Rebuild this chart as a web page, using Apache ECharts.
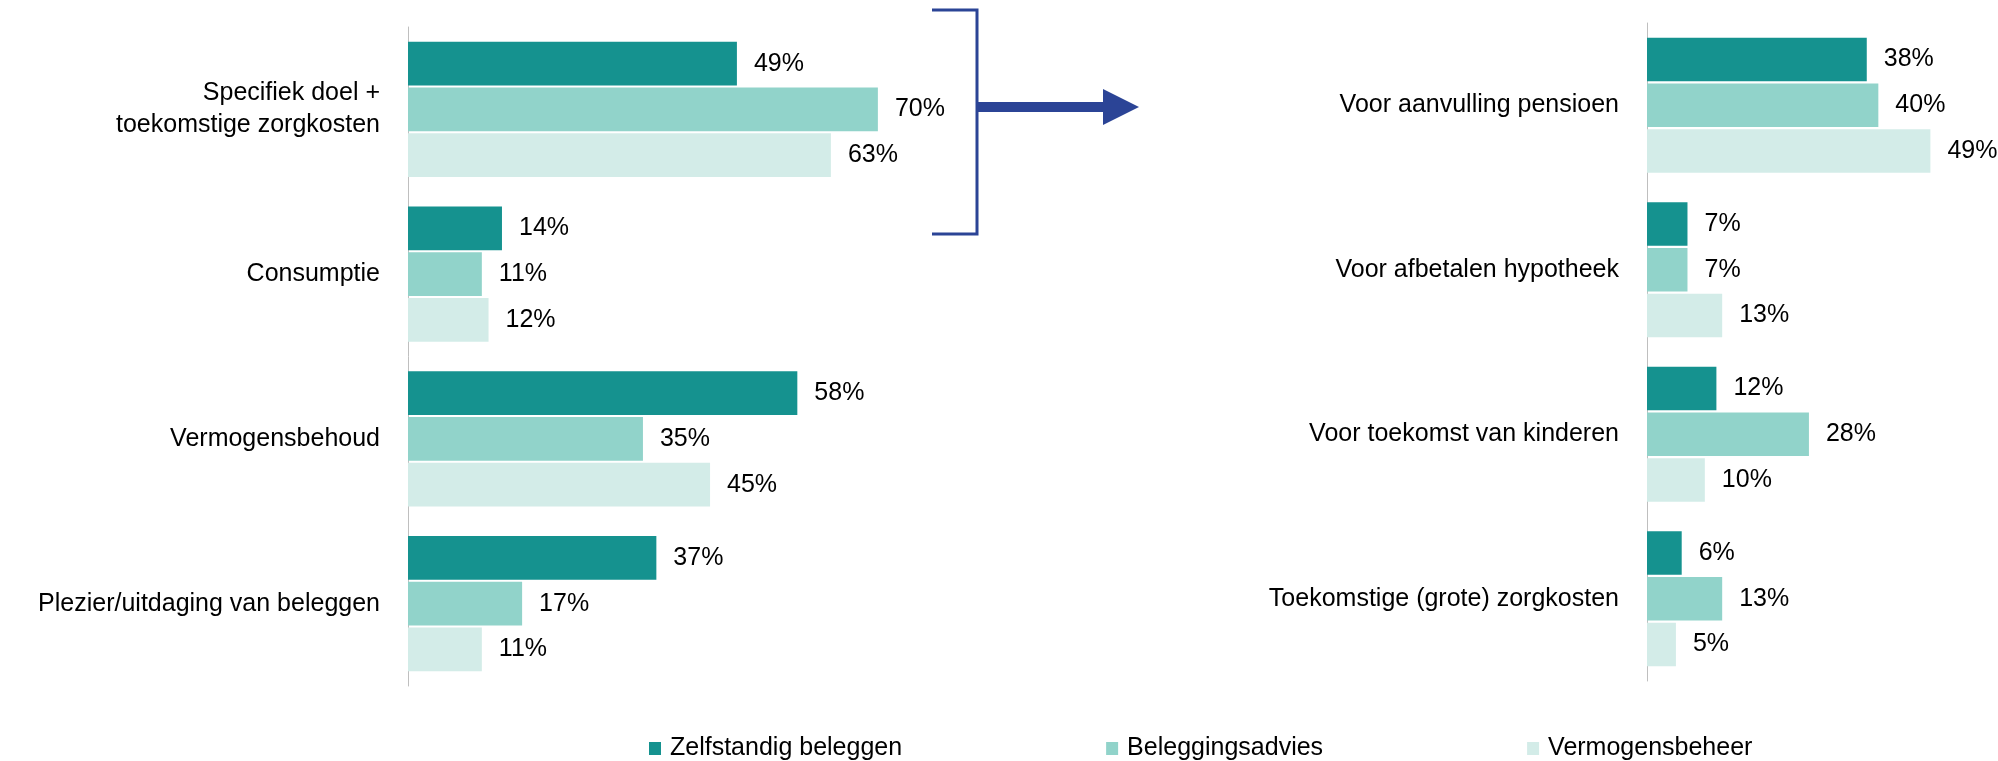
<!DOCTYPE html>
<html>
<head>
<meta charset="utf-8">
<script src="https://cdn.jsdelivr.net/npm/echarts@6.0.0/dist/echarts.min.js"></script>
<style>
  html, body { margin: 0; padding: 0; background: #fff; }
  #chart { width: 1998px; height: 761px; }
</style>
</head>
<body>
<div id="chart"></div>
<script>
// series names / legend
const seriesNames = ['Zelfstandig beleggen', 'Beleggingsadvies', 'Vermogensbeheer']
const seriesColors = ['#15928f', '#91d3ca', '#d3ece8']

// left panel: reasons for investing
const leftCategories = ['Specifiek doel +\ntoekomstige zorgkosten', 'Consumptie', 'Vermogensbehoud', 'Plezier/uitdaging van beleggen']
const leftZelfstandig = [49, 14, 58, 37]
const leftAdvies = [70, 11, 35, 17]
const leftBeheer = [63, 12, 45, 11]

// right panel: breakdown of specific goals
const rightCategories = ['Voor aanvulling pensioen', 'Voor afbetalen hypotheek', 'Voor toekomst van kinderen', 'Toekomstige (grote) zorgkosten']
const rightZelfstandig = [38, 7, 12, 6]
const rightAdvies = [40, 7, 28, 13]
const rightBeheer = [49, 13, 10, 5]

const font = 'Liberation Sans'
const fontSize = 25

function makeSeries (values, idx, axisIdx) {
  return {
    name: seriesNames[idx],
    type: 'bar',
    xAxisIndex: axisIdx,
    yAxisIndex: axisIdx,
    data: values,
    barGap: '5%',
    barCategoryGap: '18%',
    itemStyle: { color: seriesColors[idx] },
    label: {
      show: true,
      position: 'right',
      distance: 17,
      formatter: '{c}%',
      color: '#000',
      fontFamily: font,
      fontSize: fontSize
    }
  }
}

function categoryAxis (data, gridIdx) {
  return {
    type: 'category',
    gridIndex: gridIdx,
    data: data,
    inverse: true,
    axisTick: { show: false },
    axisLine: { lineStyle: { color: '#bfbfbf', width: 1 } },
    axisLabel: {
      margin: 28,
      color: '#000',
      fontFamily: font,
      fontSize: fontSize,
      lineHeight: 32,
      align: 'right'
    }
  }
}

const option = {
  animation: false,
  textStyle: { fontFamily: font },
  grid: [
    { left: 408, top: 27, width: 537, height: 659 },
    { left: 1647, top: 23, width: 347, height: 658 }
  ],
  xAxis: [
    { type: 'value', gridIndex: 0, min: 0, max: 80, show: false },
    { type: 'value', gridIndex: 1, min: 0, max: 60, show: false }
  ],
  yAxis: [
    categoryAxis(leftCategories, 0),
    categoryAxis(rightCategories, 1)
  ],
  legend: {
    left: 649,
    top: 736,
    itemWidth: 12,
    itemHeight: 13,
    itemGap: 204,
    icon: 'rect',
    padding: 0,
    data: seriesNames,
    textStyle: {
      color: '#000',
      fontFamily: font,
      fontSize: fontSize,
      padding: [0, 0, 0, 4]
    }
  },
  // bracket + arrow linking the two panels
  graphic: [
    {
      type: 'polyline',
      shape: { points: [[932, 10], [977, 10], [977, 234], [932, 234]] },
      style: { stroke: '#2b4496', lineWidth: 3, fill: null }
    },
    {
      type: 'rect',
      shape: { x: 977, y: 102, width: 127, height: 10 },
      style: { fill: '#2b4496' }
    },
    {
      type: 'polygon',
      shape: { points: [[1103, 89], [1139, 107], [1103, 125]] },
      style: { fill: '#2b4496' }
    }
  ],
  series: [
    makeSeries(leftZelfstandig, 0, 0),
    makeSeries(leftAdvies, 1, 0),
    makeSeries(leftBeheer, 2, 0),
    makeSeries(rightZelfstandig, 0, 1),
    makeSeries(rightAdvies, 1, 1),
    makeSeries(rightBeheer, 2, 1)
  ]
}

const myChart = echarts.init(document.getElementById('chart'))
myChart.setOption(option)
</script>
</body>
</html>
